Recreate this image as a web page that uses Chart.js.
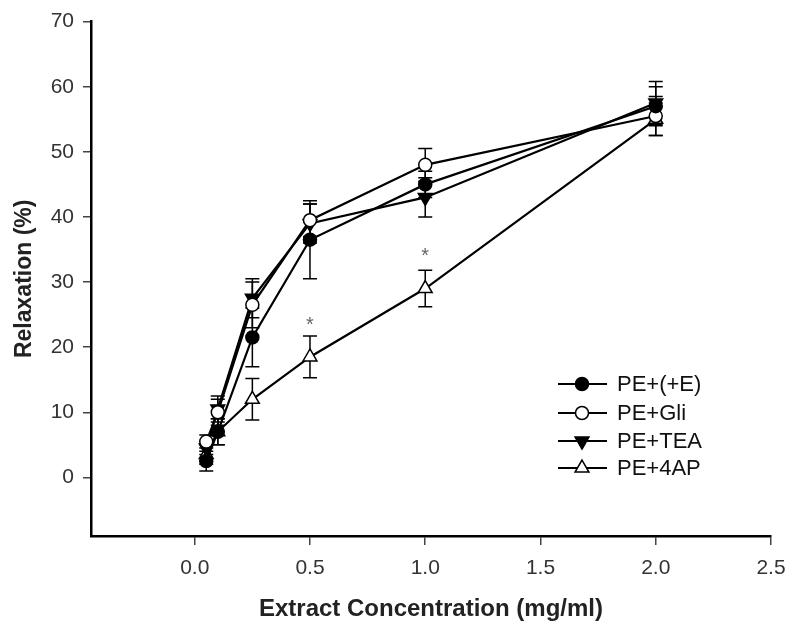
<!DOCTYPE html>
<html><head><meta charset="utf-8">
<script src="https://cdn.jsdelivr.net/npm/chart.js@4.4.0/dist/chart.umd.min.js"></script>
<style>html,body{margin:0;padding:0;background:#fff;}</style>
</head><body>
<canvas id="c" width="800" height="641" style="width:800px;height:641px;display:block"></canvas>
<script>
const concentrations = [0.05, 0.1, 0.25, 0.5, 1.0, 2.0];
const seriesNames = ['PE+(+E)', 'PE+Gli', 'PE+TEA', 'PE+4AP'];
const peE   = [2.5, 7, 21.5, 36.5, 45, 57];
const peGli = [5.5, 10, 26.5, 39.5, 48, 55.5];
const peTEA = [4.5, 10.5, 27.5, 39, 43, 57.5];
const pe4AP = [3.5, 7, 12, 18.5, 29, 55];
const errE   = [1.5, 2, 4.5, 6, 2, 3];
const errGli = [1, 2, 3.5, 2.5, 2.5, 3];
const errTEA = [1, 2, 3, 3, 3, 3.3];
const err4AP = [1.5, 2, 3.2, 3.2, 2.8, 2.5];
const xTicks = [0, 0.5, 1.0, 1.5, 2.0, 2.5];
const yTicks = [0, 10, 20, 30, 40, 50, 60, 70];
const sigX = [0.5, 1.0];
const sigY = [24, 34.5];

const FONT = "'Liberation Sans', Arial, sans-serif";
const styles = [
  {pointStyle:'circle', bg:'#000', r:6.5, rot:0},
  {pointStyle:'circle', bg:'#fff', r:6.5, rot:0},
  {pointStyle:'triangle', bg:'#000', r:8, rot:180},
  {pointStyle:'triangle', bg:'#fff', r:8, rot:0}
];
const values = [peE, peGli, peTEA, pe4AP];
const errors = [errE, errGli, errTEA, err4AP];

const datasets = values.map((vals, i) => ({
  label: seriesNames[i],
  data: concentrations.map((x, j) => ({x: x, y: vals[j]})),
  errs: errors[i],
  borderColor: '#000',
  borderWidth: 2.2,
  pointStyle: styles[i].pointStyle,
  pointRotation: styles[i].rot,
  pointRadius: styles[i].r,
  pointBackgroundColor: styles[i].bg,
  pointBorderColor: '#000',
  pointBorderWidth: 1.5,
  tension: 0,
  fill: false
}));

const errorBars = {
  id: 'errorBars',
  beforeDatasetsDraw(chart) {
    const ctx = chart.ctx, xs = chart.scales.x, ys = chart.scales.y;
    ctx.save();
    ctx.strokeStyle = '#000';
    ctx.lineWidth = 1.5;
    chart.data.datasets.forEach(ds => {
      ds.data.forEach((p, j) => {
        const e = ds.errs[j];
        const px = xs.getPixelForValue(p.x);
        const pt = ys.getPixelForValue(p.y + e);
        const pb = ys.getPixelForValue(p.y - e);
        ctx.beginPath();
        ctx.moveTo(px, pt); ctx.lineTo(px, pb);
        ctx.moveTo(px - 7, pt); ctx.lineTo(px + 7, pt);
        ctx.moveTo(px - 7, pb); ctx.lineTo(px + 7, pb);
        ctx.stroke();
      });
    });
    ctx.restore();
  },
  afterDatasetsDraw(chart) {
    const ctx = chart.ctx, xs = chart.scales.x, ys = chart.scales.y;
    ctx.save();
    ctx.fillStyle = '#666';
    ctx.font = '20px ' + FONT;
    ctx.textAlign = 'center';
    ctx.textBaseline = 'middle';
    sigX.forEach((x, i) => {
      ctx.fillText('*', xs.getPixelForValue(x), ys.getPixelForValue(sigY[i]) + 4);
    });
    // legend
    const lx1 = 558, lx2 = 607, lmx = 582, tx = 617;
    const rows = [384, 413, 441, 468];
    chart.data.datasets.forEach((ds, i) => {
      const y = rows[i];
      ctx.strokeStyle = '#000';
      ctx.lineWidth = 2.2;
      ctx.beginPath(); ctx.moveTo(lx1, y); ctx.lineTo(lx2, y); ctx.stroke();
      ctx.fillStyle = styles[i].bg;
      ctx.lineWidth = 1.5;
      ctx.beginPath();
      if (styles[i].pointStyle === 'circle') {
        ctx.arc(lmx, y, 6.5, 0, Math.PI * 2);
      } else {
        const r = 8;
        const sgn = styles[i].rot === 180 ? -1 : 1;
        ctx.moveTo(lmx, y - sgn * r);
        ctx.lineTo(lmx + r * 0.866, y + sgn * r * 0.5);
        ctx.lineTo(lmx - r * 0.866, y + sgn * r * 0.5);
        ctx.closePath();
      }
      ctx.fill(); ctx.stroke();
      ctx.fillStyle = '#111';
      ctx.font = '22px ' + FONT;
      ctx.textAlign = 'left';
      ctx.textBaseline = 'middle';
      ctx.fillText(ds.label, tx, y + 1);
    });
    ctx.restore();
  }
};

new Chart(document.getElementById('c'), {
  type: 'line',
  data: {datasets: datasets},
  plugins: [errorBars],
  options: {
    responsive: false,
    animation: false,
    devicePixelRatio: 1,
    layout: {padding: {left: 0, right: 29, top: 18, bottom: 0}},
    plugins: {legend: {display: false}, tooltip: {enabled: false}},
    scales: {
      x: {
        type: 'linear',
        min: -0.45, max: 2.5,
        afterBuildTicks: s => { s.ticks = xTicks.map(v => ({value: v})); },
        afterFit: s => { s.height = 105; },
        grid: {display: true, drawOnChartArea: false, drawTicks: true, tickLength: 9, color: '#444', lineWidth: 1.5},
        border: {display: true, color: '#000', width: 2.5},
        ticks: {color: '#333', font: {family: FONT, size: 21}, padding: 11, maxRotation: 0,
          callback: v => Number(v).toFixed(1)},
        title: {display: true, text: 'Extract Concentration (mg/ml)', color: '#222',
          font: {family: FONT, size: 24, weight: 'bold'}, padding: {top: 0, bottom: 17}}
      },
      y: {
        type: 'linear',
        min: -9, max: 70,
        afterBuildTicks: s => { s.ticks = yTicks.map(v => ({value: v})); },
        afterFit: s => { s.width = 91; },
        grid: {display: true, drawOnChartArea: false, drawTicks: true, tickLength: 8, color: '#444', lineWidth: 1.5},
        border: {display: true, color: '#000', width: 2.5},
        ticks: {color: '#333', font: {family: FONT, size: 21}, padding: 9,
          callback: v => String(v)},
        title: {display: true, text: 'Relaxation (%)', color: '#222',
          font: {family: FONT, size: 23, weight: 'bold'}, padding: {top: 11, bottom: 0}}
      }
    }
  }
});
</script>
</body></html>
